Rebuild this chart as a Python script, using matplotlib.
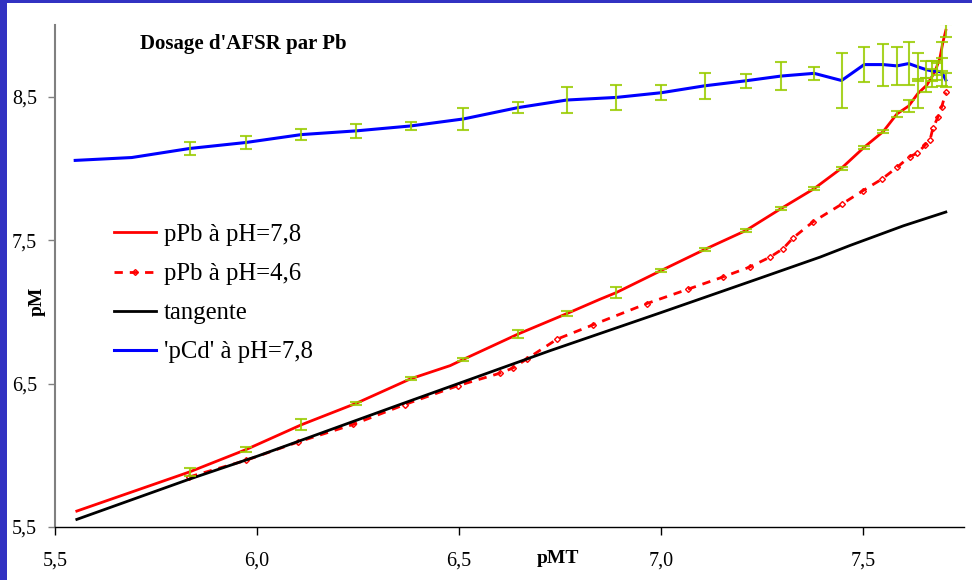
import matplotlib.pyplot as plt
from matplotlib.patches import Rectangle

# abscisses des barres d'erreur (communes aux deux courbes pH=7,8)
x_err = [5.833, 5.973, 6.110, 6.246, 6.380, 6.511, 6.646, 6.767, 6.889, 7.001,
         7.108, 7.210, 7.297, 7.379, 7.447, 7.503, 7.550, 7.584, 7.613, 7.636,
         7.655, 7.670, 7.684, 7.695, 7.705]

# 'pCd' à pH=7,8 (bleu) : les deux premiers points n'ont pas de barre d'erreur
x_cd = [5.550, 5.690] + x_err
y_cd = [8.056, 8.076, 8.139, 8.181, 8.236, 8.262, 8.296, 8.345, 8.424, 8.477,
        8.495, 8.528, 8.576, 8.611, 8.644, 8.663, 8.613, 8.724, 8.724, 8.715,
        8.731, 8.708, 8.690, 8.680, 8.677, 8.672, 8.616]
err_cd = [0.045, 0.047, 0.040, 0.050, 0.025, 0.075, 0.038, 0.088, 0.090, 0.052,
          0.090, 0.048, 0.100, 0.045, 0.195, 0.120, 0.147, 0.135, 0.148, 0.100,
          0.060, 0.070, 0.060, 0.100, 0.050]

# pPb à pH=7,8 (rouge)
x_pb78 = [5.554, 5.833, 5.973, 6.110, 6.246, 6.380, 6.478, 6.511, 6.646, 6.767,
          6.849, 6.889, 7.001, 7.108, 7.210, 7.297, 7.379, 7.447, 7.503, 7.550,
          7.584, 7.613, 7.636, 7.658, 7.678, 7.690, 7.698, 7.705]
y_pb78 = [5.611, 5.884, 6.040, 6.213, 6.363, 6.533, 6.625, 6.669, 6.845, 6.988,
          7.088, 7.134, 7.289, 7.435, 7.567, 7.720, 7.859, 8.002, 8.148, 8.257,
          8.380, 8.435, 8.523, 8.581, 8.674, 8.766, 8.882, 8.963]
y_pb78_err = [5.884, 6.040, 6.213, 6.363, 6.533, 6.669, 6.845, 6.988, 7.134, 7.289,
              7.435, 7.567, 7.720, 7.859, 8.002, 8.148, 8.257, 8.380, 8.435, 8.523,
              8.581, 8.630, 8.700, 8.780, 8.963]
err_pb78 = [0.030, 0.020, 0.040, 0.010, 0.010, 0.010, 0.030, 0.020, 0.040, 0.010,
            0.010, 0.010, 0.010, 0.010, 0.010, 0.010, 0.010, 0.020, 0.045, 0.100,
            0.050, 0.060, 0.050, 0.100, 0.045]

# pPb à pH=4,6 (rouge pointillé)
x_pb46 = [5.832, 5.973, 6.101, 6.238, 6.366, 6.498, 6.601, 6.634, 6.668, 6.743,
          6.832, 6.965, 7.067, 7.153, 7.220, 7.270, 7.302, 7.327, 7.376, 7.448,
          7.500, 7.547, 7.584, 7.616, 7.634, 7.653, 7.666, 7.673, 7.686, 7.695, 7.705]
y_pb46 = [5.849, 5.965, 6.092, 6.215, 6.354, 6.486, 6.572, 6.609, 6.672, 6.810,
          6.910, 7.058, 7.158, 7.243, 7.313, 7.382, 7.440, 7.516, 7.627, 7.752,
          7.845, 7.926, 8.007, 8.083, 8.106, 8.160, 8.200, 8.280, 8.361, 8.431, 8.530]

# tangente
x_tan = [5.554, 5.832, 6.000, 6.354, 6.725, 7.000, 7.250, 7.394, 7.468, 7.600, 7.705]
y_tan = [5.553, 5.833, 5.993, 6.354, 6.729, 6.995, 7.240, 7.382, 7.463, 7.600, 7.696]

x_ticks = [5.5, 6.0, 6.5, 7.0, 7.5]
x_tick_labels = ['5,5', '6,0', '6,5', '7,0', '7,5']
y_ticks = [5.5, 6.5, 7.5, 8.5]
y_tick_labels = ['5,5', '6,5', '7,5', '8,5']

plt.rcParams['font.family'] = ['Liberation Serif', 'DejaVu Serif']

fig = plt.figure(figsize=(9.72, 5.80), dpi=100, facecolor='#3232c2')
fig.patches.append(Rectangle((7 / 972, 0), 1, 577 / 580, transform=fig.transFigure,
                             facecolor='white', edgecolor='none', zorder=-10))
ax = fig.add_axes([55 / 972, 53 / 580, 909 / 972, 502 / 580])
ax.set_zorder(1)
ax.patch.set_alpha(0)

ax.plot(x_pb78, y_pb78, color='#ff0000', lw=2, label='pPb à pH=7,8', zorder=3)
ax.plot(x_pb46, y_pb46, color='#ff0000', lw=2, dashes=(3, 2.5), marker='D',
        markersize=3, mfc='none', mew=1, label='pPb à pH=4,6', zorder=3)
ax.plot(x_tan, y_tan, color='black', lw=2, label='tangente', zorder=3)
ax.plot(x_cd, y_cd, color='#0000ff', lw=2.2, label="'pCd' à pH=7,8", zorder=3)

ax.errorbar(x_err, y_cd[2:], yerr=err_cd, fmt='none', ecolor='#99cc00', elinewidth=1.5,
            capsize=4, capthick=1.5, alpha=0.85, zorder=4)
ax.errorbar(x_err, y_pb78_err, yerr=err_pb78, fmt='none', ecolor='#99cc00', elinewidth=1.5,
            capsize=4, capthick=1.5, alpha=0.85, zorder=4)

ax.set_xlim(5.5, 7.75)
ax.set_ylim(5.5, 9.0)
ax.set_xticks(x_ticks)
ax.set_xticklabels(x_tick_labels)
ax.set_yticks(y_ticks)
ax.set_yticklabels(y_tick_labels)
ax.tick_params(axis='x', direction='out', length=6, width=1, pad=12, labelsize=14.5)
ax.tick_params(axis='y', direction='out', length=5, width=1, pad=8, labelsize=14.5,
               color='#808080')

ax.spines['top'].set_visible(False)
ax.spines['right'].set_visible(False)
ax.spines['left'].set_color('#808080')
ax.spines['left'].set_linewidth(1.5)
ax.spines['bottom'].set_linewidth(1)

ax.text(0.207, 0.962, "Dosage d'AFSR par Pb", transform=ax.transAxes, ha='center',
        va='center', fontsize=15, fontweight='bold')
ax.text(6.745, -0.062, 'pMT', transform=ax.get_xaxis_transform(), ha='center',
        va='center', fontsize=14, fontweight='bold')
ax.text(-0.02, 0.45, 'pM', transform=ax.transAxes, ha='center', va='center',
        rotation=90, fontsize=14, fontweight='bold')

ax.legend(loc='upper left', bbox_to_anchor=(0.065, 0.604), frameon=False, fontsize=17.8,
          handlelength=1.7, handletextpad=0.3, labelspacing=0.68, borderpad=0,
          borderaxespad=0)

fig.savefig('out.png', dpi=100, facecolor=fig.get_facecolor())
